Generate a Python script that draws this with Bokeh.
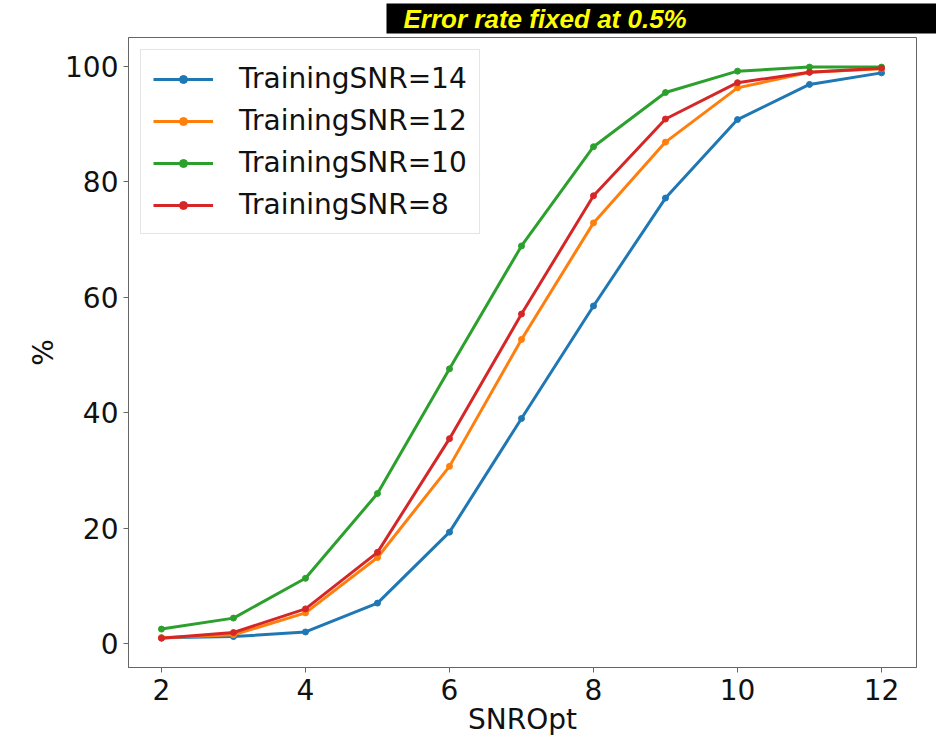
from bokeh.plotting import figure
from bokeh.models import Range1d, FixedTicker, Legend
from bokeh.embed import file_html
from bokeh.resources import INLINE

# ---------------- data ----------------
snr_opt = [2, 3, 4, 5, 6, 7, 8, 9, 10, 11, 12]
train_snr14 = [1.0, 1.2, 2.0, 7.0, 19.3, 39.0, 58.5, 77.2, 90.8, 96.9, 98.9]
train_snr12 = [1.0, 1.5, 5.3, 14.9, 30.7, 52.7, 72.9, 86.9, 96.3, 99.0, 99.6]
train_snr10 = [2.5, 4.4, 11.3, 26.0, 47.6, 68.9, 86.1, 95.5, 99.2, 99.9, 99.9]
train_snr8 = [0.9, 1.9, 6.0, 15.8, 35.5, 57.1, 77.6, 90.9, 97.2, 99.0, 99.7]
series_labels = ["TrainingSNR=14", "TrainingSNR=12", "TrainingSNR=10", "TrainingSNR=8"]
x_ticks = [2, 4, 6, 8, 10, 12]
y_ticks = [0, 20, 40, 60, 80, 100]
title_text = "Error rate fixed at 0.5%"

colors = ["#1f77b4", "#ff7f0e", "#2ca02c", "#d62728"]
FONT = "DejaVu Sans"
SPINE = "#666666"

W, H = 936, 743
FL, FT, FR, FB = 128, 37, 916, 667   # frame edges in canvas px

p = figure(width=W, height=H, output_backend="svg", toolbar_location=None,
           x_range=Range1d(1.542, 12.486), y_range=Range1d(-4.16, 105.03),
           min_border_left=FL, min_border_right=W - FR, min_border_top=FT,
           min_border_bottom=H - FB)
p.background_fill_color = "white"
p.border_fill_color = "white"
p.outline_line_color = SPINE
p.outline_line_width = 1
p.xgrid.visible = False
p.ygrid.visible = False

for ax in (p.xaxis[0], p.yaxis[0]):
    ax.axis_line_color = SPINE
    ax.major_tick_line_color = SPINE
    ax.major_tick_out = 5
    ax.major_tick_in = 0
    ax.minor_tick_line_color = None
    ax.major_label_text_font = FONT
    ax.major_label_text_font_size = "28px"
    ax.major_label_text_color = "#111111"
    ax.axis_label_text_font = FONT
    ax.axis_label_text_font_size = "28px"
    ax.axis_label_text_font_style = "normal"
    ax.axis_label_text_color = "#111111"

p.xaxis[0].ticker = FixedTicker(ticks=x_ticks)
p.yaxis[0].ticker = FixedTicker(ticks=y_ticks)
p.xaxis[0].axis_label = "SNROpt"
p.yaxis[0].axis_label = "%"
p.xaxis[0].major_label_standoff = 6
p.xaxis[0].axis_label_standoff = 0
p.yaxis[0].major_label_standoff = 5
p.yaxis[0].axis_label_standoff = 2

all_series = [train_snr14, train_snr12, train_snr10, train_snr8]
items = []
for ys, c, lab in zip(all_series, colors, series_labels):
    r1 = p.line(snr_opt, ys, line_color=c, line_width=3)
    r2 = p.scatter(snr_opt, ys, marker="circle", size=6, fill_color=c, line_color=c)
    items.append((lab, [r1, r2]))

legend = Legend(items=items, location="top_left")
legend.margin = 12
legend.padding = 12
legend.spacing = 9
legend.glyph_width = 60
legend.label_standoff = 26
legend.label_text_font = FONT
legend.label_text_font_size = "28px"
legend.label_text_color = "#111111"
legend.border_line_color = "#cccccc"
legend.border_line_width = 1
legend.background_fill_alpha = 0.85
p.add_layout(legend, "center")

# ---- slide heading: yellow bold italic text on a black box ----
t = p.title
t.text = title_text
t.align = "left"
t.offset = 386 - FL
t.vertical_align = "top"
t.standoff = 4
t.text_font = "Liberation Sans"
t.text_font_style = "bold italic"
t.text_font_size = "26px"
t.text_color = "#ffff00"
t.background_fill_color = "black"
t.background_fill_alpha = 1.0
t.padding = dict(left=17, right=300, top=0, bottom=0)

open("out.html", "w").write(file_html(p, INLINE))
